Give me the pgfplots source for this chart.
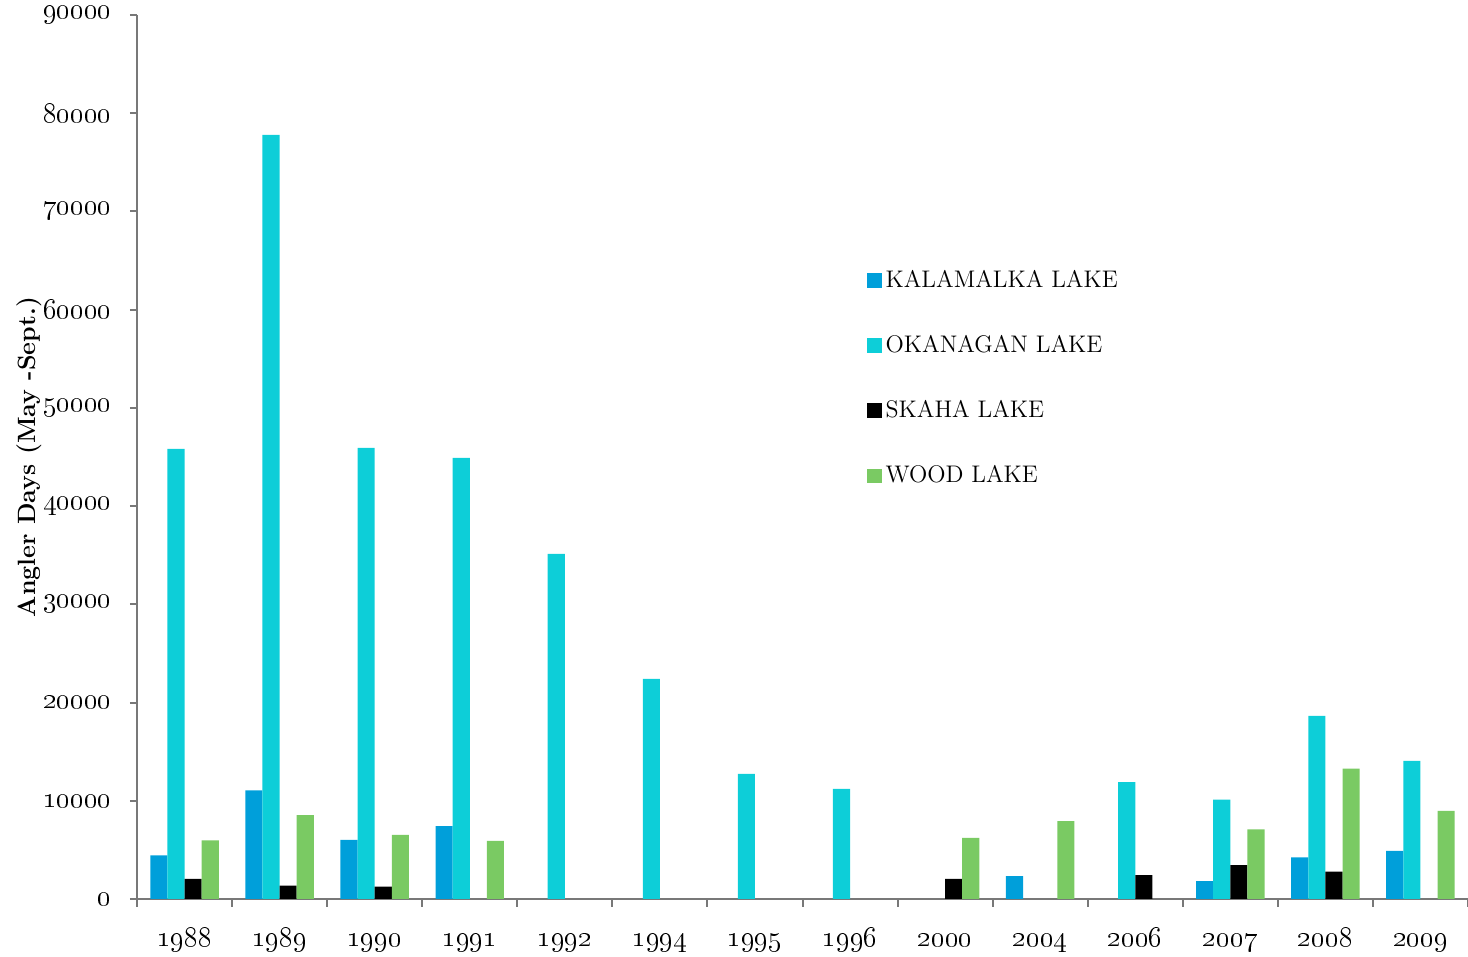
\documentclass[border=0pt]{standalone}
\usepackage{pgfplots}
\pgfplotsset{compat=1.18}
\definecolor{kal}{RGB}{0,159,218}
\definecolor{oka}{RGB}{13,206,216}
\definecolor{wood}{RGB}{122,202,99}
\definecolor{axgray}{RGB}{120,120,120}
\begin{document}
\begin{tikzpicture}
\begin{axis}[
  name=ax,
  scale only axis, width=665.5pt, height=442pt,
  xmin=-0.5, xmax=13.5, ymin=0, ymax=90000,
  axis x line*=bottom, axis y line*=left,
  axis line style={-, axgray, line width=1pt},
  tick style={axgray, line width=1pt},
  tick align=outside,
  major tick length=3.6pt, minor tick length=3.8pt,
  xtick={0,...,13},
  xticklabels={\oldstylenums{1988},\oldstylenums{1989},\oldstylenums{1990},\oldstylenums{1991},\oldstylenums{1992},\oldstylenums{1994},\oldstylenums{1995},\oldstylenums{1996},\oldstylenums{2000},\oldstylenums{2004},\oldstylenums{2006},\oldstylenums{2007},\oldstylenums{2008},\oldstylenums{2009}},
  major x tick style={draw=none},
  minor xtick={-0.5,0.5,...,13.5},
  ytick={0,10000,...,90000},
  yticklabels={\oldstylenums{0},\oldstylenums{10000},\oldstylenums{20000},\oldstylenums{30000},\oldstylenums{40000},\oldstylenums{50000},\oldstylenums{60000},\oldstylenums{70000},\oldstylenums{80000},\oldstylenums{90000}},
  ticklabel style={font=\fontsize{13.5}{15}\selectfont},
  xticklabel style={text height=9.45pt, text depth=3pt, yshift=-7pt},
  yticklabel style={inner sep=1pt, xshift=-7.9pt},
  ylabel={\textbf{Angler Days (May -Sept.)}},
  ylabel style={font=\fontsize{12.5}{14}\selectfont, yshift=-4pt},
  ybar, bar width=0.18,
  legend style={at={(0.548,0.716)}, anchor=north west, draw=none, fill=none,
    font=\fontsize{12}{14}\selectfont, row sep=18.5pt, inner sep=0pt,
    /tikz/every even column/.append style={column sep=5pt}},
  legend cell align=left,
  legend image code/.code={\fill[#1] (0pt,-3.7pt) rectangle (7.4pt,3.7pt);},
  clip=false,
]
\addplot[draw=none, fill=kal, bar shift=-0.27] coordinates {(0,4450)(1,11070)(2,6010)(3,7430)(9,2340)(11,1830)(12,4240)(13,4890)};
\addplot[draw=none, fill=oka, bar shift=-0.09] coordinates {(0,45820)(1,77800)(2,45930)(3,44900)(4,35130)(5,22400)(6,12730)(7,11200)(10,11910)(11,10110)(12,18640)(13,14050)};
\addplot[draw=none, fill=black, bar shift=0.09] coordinates {(0,2040)(1,1360)(2,1260)(8,2040)(10,2440)(11,3460)(12,2780)};
\addplot[draw=none, fill=wood, bar shift=0.27] coordinates {(0,5980)(1,8550)(2,6520)(3,5910)(8,6210)(9,7940)(11,7100)(12,13270)(13,8960)};
\legend{KALAMALKA LAKE, OKANAGAN LAKE, SKAHA LAKE, WOOD LAKE}
\end{axis}
\pgfresetboundingbox
\path ([xshift=-68.5pt,yshift=-29pt]ax.south west) rectangle ([yshift=7.5pt]ax.north east);
\end{tikzpicture}
\end{document}
